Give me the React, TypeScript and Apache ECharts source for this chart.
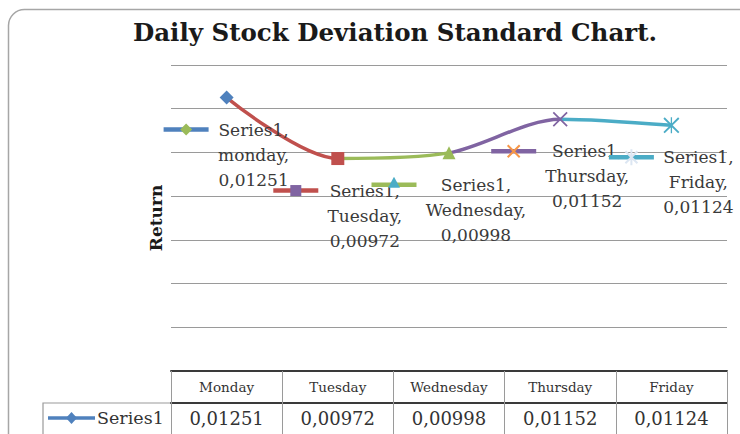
import React, { useEffect, useRef } from 'react';
import * as echarts from 'echarts';

const chartTitle = 'Daily Stock Deviation Standard Chart.';
const yAxisTitle = 'Return';
const seriesName = 'Series1';
const categories = ['Monday', 'Tuesday', 'Wednesday', 'Thursday', 'Friday'];
const labelCategories = ['monday', 'Tuesday', 'Wednesday', 'Thursday', 'Friday'];
const values = [0.01251, 0.00972, 0.00998, 0.01152, 0.01124];
const yMin = 0;
const yMax = 0.014;
const yStep = 0.002;

const SERIF = '"DejaVu Serif", "Liberation Serif", serif';
const pointColors = ['#4F81BD', '#C0504D', '#9BBB59', '#8064A2', '#4BACC6'];
const X_PATH = 'path://M0,1.3L1.3,0L8,6.7L14.7,0L16,1.3L9.3,8L16,14.7L14.7,16L8,9.3L1.3,16L0,14.7L6.7,8Z';
const STAR_PATH = X_PATH + 'M7.35,0L8.65,0L8.65,16L7.35,16Z';
const pointSymbols = ['diamond', 'rect', 'triangle', X_PATH, STAR_PATH];
const pointSizes = [14, 13, 13, 15, 16];
const keyMarkerShapes = ['diamond', 'square', 'triangle', 'x', 'star'];
const keyMarkerColors = ['#9BBB59', '#8064A2', '#4BACC6', '#F79646', '#DCE6F2'];

const fmt = (v: number) => v.toFixed(5).replace('.', ',');

function keyUri(lineColor: string, shape: string, mc: string) {
  const w = 52, h = 18, cx = 22.5, cy = 9;
  let m = '';
  if (shape === 'diamond') m = `<polygon points="${cx},${cy - 6} ${cx + 6},${cy} ${cx},${cy + 6} ${cx - 6},${cy}" fill="${mc}"/>`;
  else if (shape === 'square') m = `<rect x="${cx - 5.5}" y="${cy - 5.5}" width="11" height="11" fill="${mc}"/>`;
  else if (shape === 'triangle') m = `<polygon points="${cx},${cy - 8} ${cx + 6},${cy + 3} ${cx - 6},${cy + 3}" fill="${mc}"/>`;
  else if (shape === 'x') m = `<path d="M${cx - 6} ${cy - 6}L${cx + 6} ${cy + 6}M${cx + 6} ${cy - 6}L${cx - 6} ${cy + 6}" stroke="${mc}" stroke-width="2" fill="none"/>`;
  else m = `<path d="M${cx - 6} ${cy - 6}L${cx + 6} ${cy + 6}M${cx + 6} ${cy - 6}L${cx - 6} ${cy + 6}M${cx} ${cy - 8}L${cx} ${cy + 8}" stroke="${mc}" stroke-width="2" fill="none"/>`;
  const svg = `<svg xmlns="http://www.w3.org/2000/svg" width="${w}" height="${h}" viewBox="0 0 ${w} ${h}"><line x1="0" y1="${cy}" x2="45" y2="${cy}" stroke="${lineColor}" stroke-width="4.5"/>${m}</svg>`;
  return 'data:image/svg+xml;charset=utf-8,' + encodeURIComponent(svg);
}

export default function App() {
  const ref = useRef<HTMLDivElement>(null);
  useEffect(() => {
    if (!ref.current) return;
    const chart = echarts.init(ref.current, undefined, { renderer: 'svg' });
    const canvas = document.createElement('canvas');
    const ctx = canvas.getContext('2d')!;
    const labelFont = 17;
    ctx.font = `${labelFont}px "DejaVu Serif"`;

    const data = values.map((v, i) => {
      const lines = [seriesName + ',', labelCategories[i] + ',', fmt(v)];
      const W = Math.ceil(Math.max(...lines.map((l) => ctx.measureText(l).width))) + 2;
      return {
        value: v,
        symbol: pointSymbols[i],
        symbolSize: pointSizes[i],
        itemStyle: { color: pointColors[i], borderWidth: 0 },
        label: {
          show: true,
          position: 'inside',
          offset: [0, 57],
          lineHeight: 25,
          formatter: `{k|}{t|${lines[0]}}\n{s|}{t|${lines[1]}}\n{s|}{t|${lines[2]}}`,
          rich: {
            k: { width: 54, height: 18, backgroundColor: { image: keyUri(pointColors[i], keyMarkerShapes[i], keyMarkerColors[i]) } },
            s: { width: 54, height: 18 },
            t: { width: W, align: 'center', fontFamily: SERIF, fontSize: labelFont, color: '#3a3a3a', lineHeight: 25 },
          },
        },
      };
    });

    const option: any = {
      animation: false,
      backgroundColor: '#ffffff',
      title: {
        text: chartTitle,
        left: 128,
        top: 15,
        textStyle: { fontFamily: SERIF, fontWeight: 'bold', fontSize: 24.5, color: '#1a1a1a' },
      },
      grid: { left: 171, right: 13, top: 65, bottom: 63, containLabel: false },
      xAxis: [
        {
          type: 'category',
          data: categories,
          boundaryGap: true,
          axisLine: { show: true, lineStyle: { color: '#3a3a3a', width: 2 } },
          axisTick: { show: true, interval: 0, length: 70, lineStyle: { color: '#9a9a9a', width: 1 } },
          axisLabel: {
            interval: 0,
            margin: 0,
            formatter: (val: string, idx: number) => `{h|${val}}\n{v|${fmt(values[idx])}}`,
            rich: {
              h: { fontFamily: SERIF, fontSize: 13.5, lineHeight: 32, color: '#333' },
              v: { fontFamily: SERIF, fontSize: 18, lineHeight: 31, color: '#333' },
            },
          },
          splitLine: { show: false },
        },
        {
          type: 'category',
          data: categories,
          position: 'bottom',
          offset: 32,
          axisLine: { show: true, lineStyle: { color: '#3a3a3a', width: 2 } },
          axisTick: { show: false },
          axisLabel: { show: false },
        },
      ],
      yAxis: {
        type: 'value',
        min: yMin,
        max: yMax,
        interval: yStep,
        name: yAxisTitle,
        nameLocation: 'middle',
        nameGap: 7,
        nameTextStyle: { fontFamily: SERIF, fontWeight: 'bold', fontSize: 17, color: '#1a1a1a' },
        axisLabel: { show: false },
        axisLine: { show: false },
        axisTick: { show: false },
        splitLine: { show: true, lineStyle: { color: '#9a9a9a', width: 1.2 } },
      },
      series: [
        {
          type: 'line',
          name: seriesName,
          xAxisIndex: 0,
          data,
          smooth: 0.3,
          symbolKeepAspect: true,
          lineStyle: {
            width: 3.5,
            color: {
              type: 'linear', x: 0, y: 0, x2: 1, y2: 0,
              colorStops: [
                { offset: 0, color: pointColors[1] },
                { offset: 0.25, color: pointColors[1] },
                { offset: 0.25, color: pointColors[2] },
                { offset: 0.5, color: pointColors[2] },
                { offset: 0.5, color: pointColors[3] },
                { offset: 0.75, color: pointColors[3] },
                { offset: 0.75, color: pointColors[4] },
                { offset: 1, color: pointColors[4] },
              ],
            },
          },
          emphasis: { disabled: true },
          z: 3,
        },
      ],
      graphic: [
        {
          type: 'rect',
          shape: { x: 8.5, y: 9.5, width: 900, height: 600, r: 16 },
          style: { fill: 'none', stroke: '#a6a6a6', lineWidth: 1.5 },
          silent: true,
          z: 0,
        },
        {
          type: 'polyline',
          shape: { points: [[43, 440], [43, 403], [171, 403]] },
          style: { fill: 'none', stroke: '#9a9a9a', lineWidth: 1.2 },
          silent: true,
        },
        {
          type: 'line',
          shape: { x1: 48, y1: 418, x2: 95, y2: 418 },
          style: { stroke: pointColors[0], lineWidth: 3.5 },
          silent: true,
        },
        {
          type: 'polygon',
          shape: { points: [[71.5, 412], [77, 418], [71.5, 424], [66, 418]] },
          style: { fill: pointColors[0] },
          silent: true,
        },
        {
          type: 'text',
          x: 97,
          y: 418,
          style: { text: seriesName, fontFamily: SERIF, fontSize: 17.5, fill: '#333', textVerticalAlign: 'middle', verticalAlign: 'middle' },
          silent: true,
        },
      ],
    };
    chart.setOption(option);
    return () => chart.dispose();
  }, []);
  return <div ref={ref} style={{ position: 'fixed', left: 0, top: 0, width: 740, height: 434 }} />;
}
